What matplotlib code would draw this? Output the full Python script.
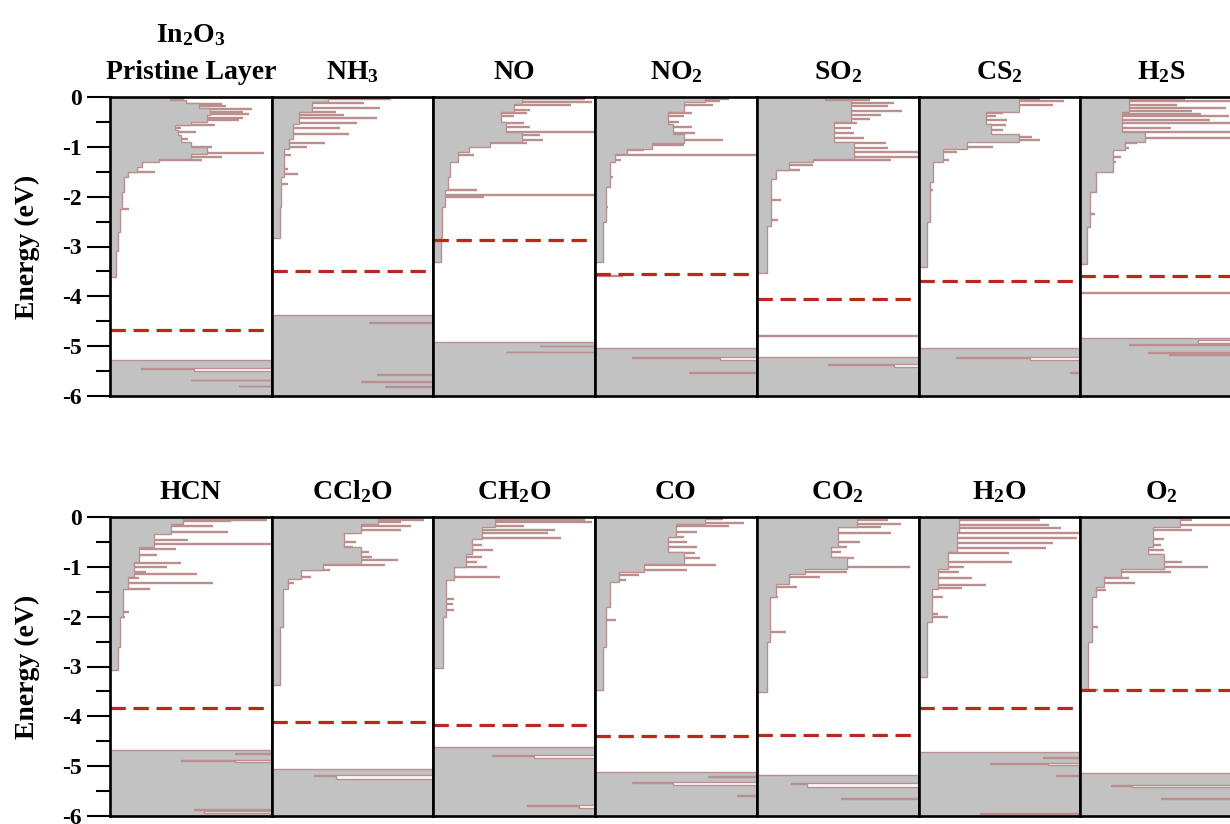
import matplotlib
matplotlib.use('Agg')
import matplotlib.pyplot as plt
import numpy as np

plt.rcParams['font.family'] = ['Liberation Serif', 'DejaVu Serif']
plt.rcParams['font.weight'] = 'bold'
plt.rcParams['mathtext.fontset'] = 'custom'
plt.rcParams['mathtext.rm'] = 'Liberation Serif:bold'
plt.rcParams['mathtext.bf'] = 'Liberation Serif:bold'
plt.rcParams['mathtext.it'] = 'Liberation Serif:bold'

# ---------------- data (energy in eV, DOS as fraction of panel width) ----------------
# *_E: upper edges of step intervals (descending, last interval ends at -6); *_D: DOS of each interval
# *_pkE / *_pkD: narrow DOS peaks (energy, height)
in2o3_E = [0, -0.07, -0.13, -0.23, -0.37, -0.5, -0.57, -0.67, -0.77, -0.9, -1.0, -1.14, -1.24, -1.3, -1.4, -1.5,
           -1.6, -1.9, -2.24, -2.7, -3.1, -3.61,
           -5.28, -5.44, -5.455, -5.50, -5.67, -5.685, -5.79, -5.80]
in2o3_D = [0.37, 0.47, 0.55, 0.62, 0.60, 0.50, 0.40, 0.42, 0.44, 0.50, 0.60, 0.50, 0.30, 0.20, 0.17, 0.11,
           0.085, 0.075, 0.06, 0.05, 0.04, 0,
           1.2, 0.19, 0.52, 1.2, 0.5, 1.2, 0.8, 1.2]
in2o3_pkE = [-0.05, -0.15, -0.19, -0.25, -0.30, -0.35, -0.42, -0.47, -0.57, -0.62, -0.70, -0.84, -1.00, -1.12, -1.20, -1.27, -1.50, -2.24]
in2o3_pkD = [0.46, 0.69, 0.72, 0.88, 0.82, 0.86, 0.82, 0.80, 0.65, 0.44, 0.53, 0.48, 0.63, 0.95, 0.69, 0.57, 0.28, 0.12]

nh3_E = [0, -0.1, -0.3, -0.55, -0.85, -1.05, -1.6, -2.2, -2.82, -4.38, -4.52, -4.545, -5.56, -5.58, -5.70, -5.72, -5.80, -5.82]
nh3_D = [0.35, 0.25, 0.17, 0.13, 0.11, 0.075, 0.06, 0.05, 0, 1.2, 0.6, 1.2, 0.65, 1.2, 0.55, 1.2, 0.7, 1.2]
nh3_pkE = [-0.04, -0.13, -0.23, -0.30, -0.36, -0.43, -0.53, -0.63, -0.75, -0.92, -1.0, -1.17, -1.45, -1.55, -1.75]
nh3_pkD = [0.74, 0.57, 0.67, 0.40, 0.45, 0.65, 0.53, 0.42, 0.48, 0.33, 0.22, 0.12, 0.10, 0.16, 0.10]

no_E = [0, -0.15, -0.3, -0.5, -0.7, -0.9, -1.0, -1.1, -1.3, -1.6, -1.87, -2.2, -2.8, -3.31,
        -4.91, -4.99, -5.005, -5.11, -5.125]
no_D = [0.55, 0.50, 0.42, 0.45, 0.55, 0.35, 0.22, 0.15, 0.10, 0.09, 0.07, 0.055, 0.045, 0,
        1.2, 0.66, 1.2, 0.45, 1.2]
no_pkE = [-0.05, -0.11, -0.16, -0.26, -0.33, -0.39, -0.53, -0.60, -0.70, -0.76, -0.86, -0.93, -1.16, -1.87, -1.97, -2.0]
no_pkD = [0.94, 0.98, 0.85, 0.60, 0.58, 0.50, 0.56, 0.60, 1.0, 0.66, 0.68, 0.58, 0.25, 0.27, 1.0, 0.31]

no2_E = [0, -0.1, -0.3, -0.55, -0.75, -0.92, -1.05, -1.15, -1.3, -1.8, -2.5, -3.31,
         -5.03, -5.21, -5.23, -5.28, -5.51, -5.53]
no2_D = [0.68, 0.55, 0.45, 0.48, 0.55, 0.35, 0.20, 0.12, 0.09, 0.065, 0.05, 0,
         1.2, 0.23, 0.77, 1.2, 0.58, 1.2]
no2_pkE = [-0.05, -0.09, -0.16, -0.33, -0.39, -0.50, -0.60, -0.73, -0.86, -0.96, -1.06, -1.16, -1.26, -1.6, -2.2, -3.6]
no2_pkD = [0.83, 0.77, 0.73, 0.60, 0.55, 0.52, 0.60, 0.62, 0.79, 0.55, 0.30, 1.0, 0.16, 0.11, 0.08, 0.17]

so2_E = [0, -0.07, -0.5, -0.9, -1.24, -1.3, -1.47, -1.64, -2.58, -3.54, -5.21, -5.36, -5.38, -5.42]
so2_D = [0.42, 0.58, 0.48, 0.60, 0.35, 0.20, 0.12, 0.09, 0.06, 0, 1.2, 0.44, 0.85, 1.2]
so2_pkE = [-0.06, -0.13, -0.19, -0.29, -0.36, -0.45, -0.53, -0.63, -0.73, -0.83, -0.93, -1.03, -1.10, -1.20, -1.26, -1.37, -1.47, -2.07, -2.47, -4.80]
so2_pkD = [0.70, 0.85, 0.81, 0.90, 0.77, 0.70, 0.62, 0.58, 0.60, 0.66, 0.80, 0.81, 1.0, 1.0, 0.83, 0.35, 0.27, 0.15, 0.13, 1.0]

cs2_E = [0, -0.3, -0.55, -0.75, -0.9, -1.05, -1.3, -1.7, -2.5, -3.41,
         -5.03, -5.21, -5.23, -5.28, -5.52, -5.535]
cs2_D = [0.62, 0.42, 0.45, 0.62, 0.30, 0.15, 0.09, 0.07, 0.05, 0,
         1.2, 0.23, 0.69, 1.2, 0.94, 1.2]
cs2_pkE = [-0.05, -0.09, -0.16, -0.33, -0.39, -0.46, -0.56, -0.66, -0.80, -0.86, -1.0, -1.1, -1.26, -1.87]
cs2_pkD = [0.75, 0.90, 0.83, 0.52, 0.48, 0.55, 0.54, 0.52, 0.70, 0.75, 0.46, 0.24, 0.19, 0.09]

h2s_E = [0, -0.3, -0.7, -0.9, -1.07, -1.5, -1.9, -2.6, -3.35,
         -4.84, -4.88, -4.93, -4.96, -4.98, -5.12, -5.14, -5.16, -5.18]
h2s_D = [0.30, 0.26, 0.40, 0.28, 0.20, 0.10, 0.06, 0.045, 0,
         1.2, 0.73, 1.2, 0.3, 1.2, 0.42, 1.2, 0.55, 1.2]
h2s_pkE = [-0.05, -0.09, -0.16, -0.23, -0.29, -0.35, -0.39, -0.46, -0.53, -0.63, -0.70, -0.83, -0.93, -1.03, -1.20, -1.30, -1.43, -1.67, -2.34, -3.94]
h2s_pkD = [0.65, 1.0, 0.60, 0.90, 0.69, 0.75, 0.92, 0.80, 0.95, 0.56, 1.0, 1.0, 0.35, 0.30, 0.25, 0.22, 0.15, 0.10, 0.09, 1.0]

hcn_E = [0, -0.15, -0.35, -0.6, -0.9, -1.2, -1.45, -2.0, -2.6, -3.08,
         -4.67, -4.74, -4.76, -4.87, -4.89, -4.92, -5.86, -5.88, -5.90, -5.93]
hcn_D = [0.45, 0.38, 0.27, 0.18, 0.15, 0.11, 0.08, 0.06, 0.05, 0,
         1.2, 0.77, 1.2, 0.44, 0.77, 1.2, 0.52, 1.2, 0.58, 1.2]
hcn_pkE = [-0.06, -0.09, -0.19, -0.30, -0.46, -0.54, -0.65, -0.77, -0.93, -1.01, -1.10, -1.15, -1.23, -1.33, -1.44, -1.90, -2.00]
hcn_pkD = [0.97, 0.75, 0.64, 0.73, 0.48, 1.0, 0.41, 0.29, 0.44, 0.35, 0.22, 0.54, 0.18, 0.64, 0.25, 0.12, 0.09]

ccl2o_E = [0, -0.15, -0.33, -0.6, -0.95, -1.07, -1.25, -1.45, -2.2, -3.38,
           -5.06, -5.18, -5.20, -5.25]
ccl2o_D = [0.66, 0.55, 0.45, 0.55, 0.32, 0.18, 0.10, 0.07, 0.05, 0,
           1.2, 0.26, 0.40, 1.2]
ccl2o_pkE = [-0.07, -0.11, -0.18, -0.26, -0.33, -0.50, -0.60, -0.70, -0.80, -0.87, -0.97, -1.07, -1.20, -1.33]
ccl2o_pkD = [0.94, 0.80, 0.86, 0.80, 0.50, 0.52, 0.50, 0.60, 0.62, 0.78, 0.70, 0.36, 0.24, 0.14]

ch2o_E = [0, -0.2, -0.45, -0.75, -1.0, -1.27, -2.0, -3.04,
          -4.62, -4.77, -4.79, -4.83, -5.78, -5.80, -5.83]
ch2o_D = [0.38, 0.30, 0.24, 0.20, 0.13, 0.08, 0.06, 0,
          1.2, 0.36, 0.62, 1.2, 0.58, 0.9, 1.2]
ch2o_pkE = [-0.06, -0.11, -0.18, -0.26, -0.33, -0.43, -0.56, -0.66, -0.80, -0.90, -1.00, -1.20, -1.64, -1.75, -1.87]
ch2o_pkD = [0.94, 0.98, 0.56, 0.75, 0.71, 0.79, 0.30, 0.37, 0.30, 0.27, 0.33, 0.41, 0.13, 0.12, 0.13]

co_E = [0, -0.15, -0.4, -0.7, -0.95, -1.1, -1.3, -1.8, -2.6, -3.47,
        -5.12, -5.19, -5.21, -5.32, -5.34, -5.37, -5.57, -5.59]
co_D = [0.68, 0.50, 0.45, 0.55, 0.30, 0.15, 0.09, 0.065, 0.05, 0,
        1.2, 0.7, 1.2, 0.23, 0.48, 1.2, 0.88, 1.2]
co_pkE = [-0.05, -0.13, -0.19, -0.30, -0.40, -0.50, -0.60, -0.73, -0.83, -0.97, -1.07, -1.17, -1.27, -1.67, -2.07]
co_pkD = [0.79, 0.92, 0.83, 0.63, 0.55, 0.57, 0.63, 0.62, 0.65, 0.75, 0.57, 0.27, 0.19, 0.10, 0.13]

co2_E = [0, -0.2, -0.6, -0.8, -1.05, -1.15, -1.35, -1.6, -2.5, -3.51,
         -5.17, -5.33, -5.35, -5.41, -5.64, -5.66]
co2_D = [0.62, 0.50, 0.46, 0.56, 0.30, 0.20, 0.12, 0.08, 0.06, 0,
         1.2, 0.21, 0.31, 1.2, 0.52, 1.2]
co2_pkE = [-0.07, -0.14, -0.21, -0.33, -0.50, -0.60, -0.70, -0.83, -1.00, -1.10, -1.20, -1.40, -1.60, -2.30]
co2_pkD = [0.81, 0.89, 0.77, 0.83, 0.64, 0.56, 0.52, 0.60, 0.95, 0.56, 0.39, 0.25, 0.13, 0.18]

h2o_E = [0, -0.3, -0.7, -1.04, -1.44, -2.1, -3.21,
         -4.72, -4.82, -4.84, -4.93, -4.95, -4.98, -5.17, -5.19, -5.93, -5.95]
h2o_D = [0.25, 0.24, 0.18, 0.12, 0.085, 0.055, 0,
         1.2, 0.77, 1.2, 0.44, 0.8, 1.2, 0.85, 1.2, 0.38, 1.2]
h2o_pkE = [-0.03, -0.07, -0.16, -0.23, -0.33, -0.43, -0.53, -0.63, -0.73, -0.90, -1.00, -1.10, -1.23, -1.37, -1.43, -1.60, -1.95, -2.00]
h2o_pkD = [0.72, 0.75, 0.81, 0.88, 1.0, 0.98, 0.83, 0.79, 0.56, 0.58, 0.28, 0.25, 0.33, 0.42, 0.27, 0.15, 0.12, 0.18]

o2_E = [0, -0.2, -0.6, -0.75, -1.05, -1.2, -1.4, -1.6, -2.5, -3.45,
        -5.14, -5.37, -5.39, -5.42, -5.64, -5.66]
o2_D = [0.62, 0.45, 0.42, 0.52, 0.25, 0.15, 0.10, 0.07, 0.05, 0,
        1.2, 0.19, 0.32, 1.2, 0.5, 1.2]
o2_pkE = [-0.07, -0.16, -0.26, -0.45, -0.56, -0.66, -0.76, -0.90, -1.00, -1.10, -1.23, -1.33, -1.47, -2.20, -3.47]
o2_pkD = [0.69, 0.95, 0.69, 0.52, 0.50, 0.52, 0.50, 0.63, 0.79, 0.56, 0.30, 0.34, 0.16, 0.11, 0.11]

titles_top = [r'$\mathbf{In_2O_3}$', r'$\mathbf{NH_3}$', 'NO', r'$\mathbf{NO_2}$', r'$\mathbf{SO_2}$', r'$\mathbf{CS_2}$', r'$\mathbf{H_2S}$']
titles_bot = ['HCN', r'$\mathbf{CCl_2O}$', r'$\mathbf{CH_2O}$', 'CO', r'$\mathbf{CO_2}$', r'$\mathbf{H_2O}$', r'$\mathbf{O_2}$']
fermi_top = [-4.67, -3.49, -2.86, -3.55, -4.06, -3.69, -3.59]
fermi_bot = [-3.83, -4.11, -4.17, -4.40, -4.37, -3.83, -3.48]
ytick_vals = [0, -1, -2, -3, -4, -5, -6]
ytick_labels = ['0', '-1', '-2', '-3', '-4', '-5', '-6']

dos_top = [(in2o3_E, in2o3_D, in2o3_pkE, in2o3_pkD), (nh3_E, nh3_D, nh3_pkE, nh3_pkD),
           (no_E, no_D, no_pkE, no_pkD), (no2_E, no2_D, no2_pkE, no2_pkD),
           (so2_E, so2_D, so2_pkE, so2_pkD), (cs2_E, cs2_D, cs2_pkE, cs2_pkD),
           (h2s_E, h2s_D, h2s_pkE, h2s_pkD)]
dos_bot = [(hcn_E, hcn_D, hcn_pkE, hcn_pkD), (ccl2o_E, ccl2o_D, ccl2o_pkE, ccl2o_pkD),
           (ch2o_E, ch2o_D, ch2o_pkE, ch2o_pkD), (co_E, co_D, co_pkE, co_pkD),
           (co2_E, co2_D, co2_pkE, co2_pkD), (h2o_E, h2o_D, h2o_pkE, h2o_pkD),
           (o2_E, o2_D, o2_pkE, o2_pkD)]

# ---------------- styling ----------------
GRAY = '#c2c2c2'
ROSY = '#bc8f8f'
FERMI = '#b8281c'
W, H = 1230, 824
fig = plt.figure(figsize=(W / 100, H / 100), dpi=100)

left0 = 110.0
pw = 161.7
ax_h = 299.0
rows = [(97.0, dos_top, titles_top, fermi_top), (517.0, dos_bot, titles_bot, fermi_bot)]

for r, (top_px, dos, titles, fermis) in enumerate(rows):
    for i in range(7):
        E, D, pkE, pkD = dos[i]
        ax = fig.add_axes([(left0 + i * pw) / W, 1 - (top_px + ax_h) / H, pw / W, ax_h / H])
        edges = np.array(E + [-6.0])[::-1]
        vals = np.array(D)[::-1]
        ax.hlines(pkE, 0, pkD, color=ROSY, lw=1.7, zorder=1)
        ax.stairs(vals, edges, orientation='horizontal', baseline=0, fill=True,
                  color=GRAY, lw=0, zorder=2)
        ax.stairs(vals, edges, orientation='horizontal', baseline=None,
                  color=ROSY, lw=1.0, zorder=3)
        ax.axhline(fermis[i], color=FERMI, lw=2.3, ls=(0, (4.8, 2.4)), zorder=4)
        ax.set_xlim(0, 1)
        ax.set_ylim(-6, 0)
        ax.set_xticks([])
        for s in ax.spines.values():
            s.set_linewidth(1.9)
            s.set_zorder(5)
        if r == 0 and i == 0:
            ax.text(0.5, 1 + 55 / ax_h, titles[i], transform=ax.transAxes, ha='center',
                    va='baseline', fontsize=20, fontweight='bold')
            ax.text(0.5, 1 + 18 / ax_h, 'Pristine Layer', transform=ax.transAxes, ha='center',
                    va='baseline', fontsize=20, fontweight='bold')
        else:
            ax.text(0.5, 1 + 18 / ax_h, titles[i], transform=ax.transAxes, ha='center',
                    va='baseline', fontsize=20, fontweight='bold')
        if i == 0:
            ax.set_yticks(ytick_vals)
            ax.set_yticklabels(ytick_labels, fontsize=17, fontweight='bold')
            ax.set_yticks(np.arange(-5.5, 0, 1.0), minor=True)
            ax.tick_params(axis='y', which='major', direction='out', length=16.5, width=1.5, pad=3.5)
            ax.tick_params(axis='y', which='minor', direction='out', length=10, width=1.5)
            ax.set_ylabel('Energy (eV)', fontsize=20, fontweight='bold')
            ax.yaxis.set_label_coords((40 - left0) / pw, 0.5)
        else:
            ax.set_yticks([])

fig.savefig('out.png', dpi=100)
